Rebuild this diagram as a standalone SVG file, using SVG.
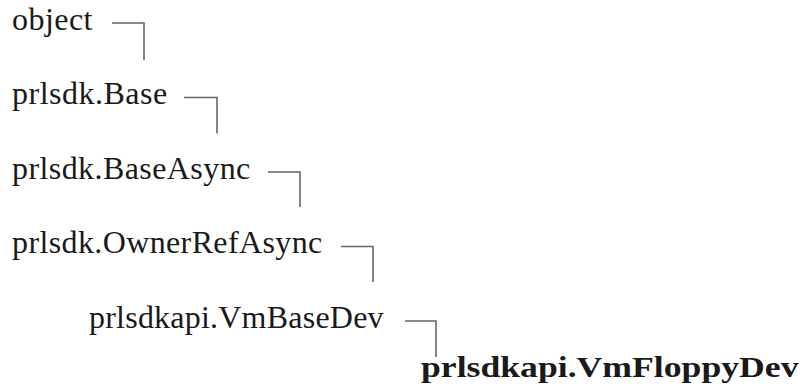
<svg xmlns="http://www.w3.org/2000/svg" width="802" height="391" viewBox="0 0 802 391">
<style>
#connectors path{fill:none;stroke:#666;stroke-width:1.6}
</style>
<rect width="802" height="391" fill="#fff"/>
<g id="n-object"><text x="12" y="29.5" font-family="Liberation Serif" font-size="32" fill="#1a1a1a" letter-spacing="0.45">object</text></g>
<g id="n-base"><text x="12" y="104" font-family="Liberation Serif" font-size="32" fill="#1a1a1a" letter-spacing="0.5">prlsdk.Base</text></g>
<g id="n-baseasync"><text x="12" y="178.5" font-family="Liberation Serif" font-size="32" fill="#1a1a1a" letter-spacing="0.42">prlsdk.BaseAsync</text></g>
<g id="n-ownerrefasync"><text x="12" y="253" font-family="Liberation Serif" font-size="32" fill="#1a1a1a" letter-spacing="0.38">prlsdk.OwnerRefAsync</text></g>
<g id="n-vmbasedev"><text x="89" y="327.5" font-family="Liberation Serif" font-size="32" fill="#1a1a1a" letter-spacing="0.22">prlsdkapi.VmBaseDev</text></g>
<g id="n-vmfloppydev"><text font-family="Liberation Serif" font-weight="bold" font-size="29" fill="#1a1a1a" transform="translate(421 377) scale(1.23 1)" x="0" y="0">prlsdkapi.VmFloppyDev</text></g>
<g id="connectors">
<path d="M112 23H144V60"/>
<path d="M184 97.5H217V133.5"/>
<path d="M268 172H300V207"/>
<path d="M341 246.5H373V282"/>
<path d="M405 321H436V357"/>
</g>
</svg>
